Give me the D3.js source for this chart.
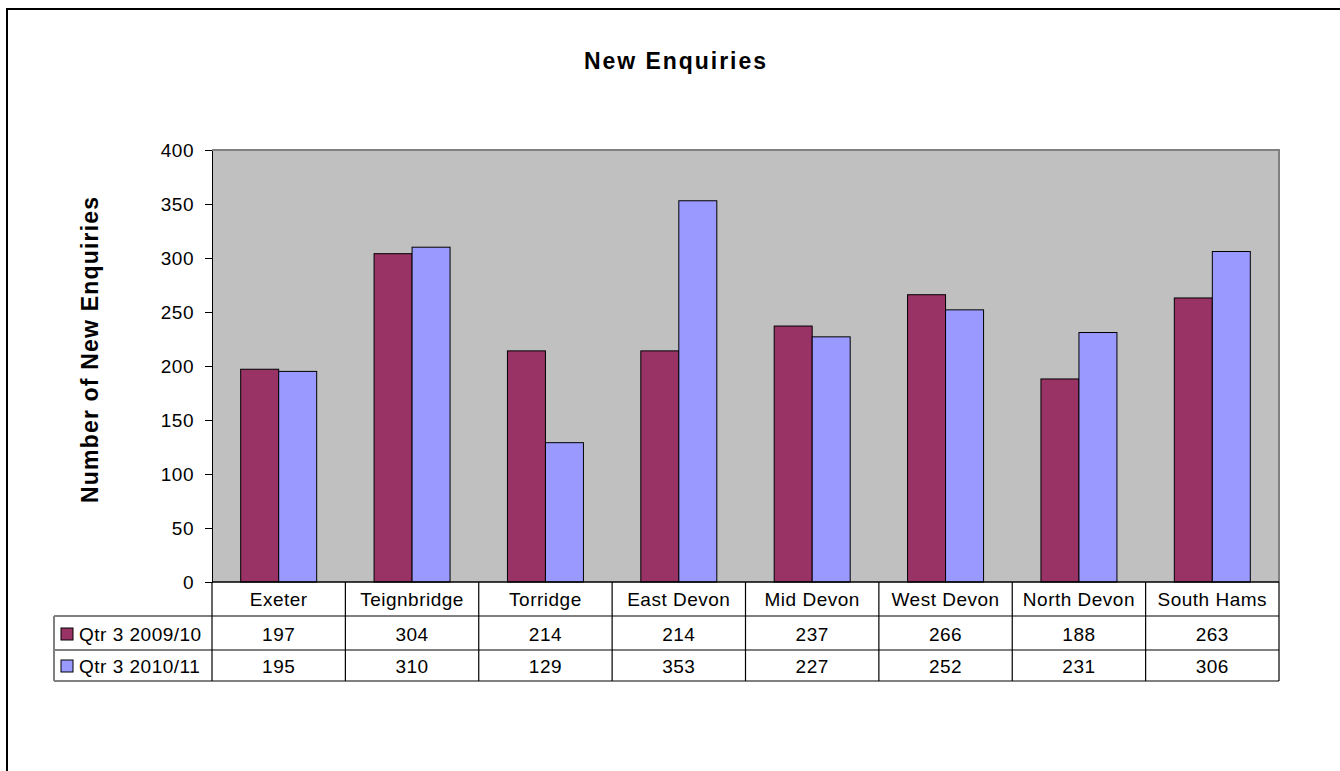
<!DOCTYPE html>
<html>
<head>
<meta charset="utf-8">
<script src="https://cdn.jsdelivr.net/npm/d3@7"></script>
<style>
  html, body { margin: 0; padding: 0; background: #fff; }
  svg { display: block; font-family: "Liberation Sans", Arial, sans-serif; }
</style>
</head>
<body>
<svg id="chart" width="1340" height="771"></svg>
<script>
// Quarterly new enquiries by district
const districts = ["Exeter", "Teignbridge", "Torridge", "East Devon", "Mid Devon", "West Devon", "North Devon", "South Hams"];
const seriesNames = ["Qtr 3 2009/10", "Qtr 3 2010/11"];
const qtr3_2009_10 = [197, 304, 214, 214, 237, 266, 188, 263];
const qtr3_2010_11 = [195, 310, 129, 353, 227, 252, 231, 306];
const yTicks = [0, 50, 100, 150, 200, 250, 300, 350, 400];
const seriesColors = ["#993366", "#9999FF"];

const series = [qtr3_2009_10, qtr3_2010_11];

const labelSize = 19;
const labelSpacing = "0.5px";
const headingSize = 23;

const svg = d3.select("#chart");

// Outer chart frame (runs off the right and bottom of the page)
svg.append("rect")
  .attr("x", 7).attr("y", 9)
  .attr("width", 1400).attr("height", 800)
  .attr("fill", "#fff").attr("stroke", "#000").attr("stroke-width", 2);

const plot = { left: 212, right: 1279, top: 150, bottom: 582 };

const x = d3.scaleBand().domain(districts).range([plot.left, plot.right]).paddingInner(0).paddingOuter(0);
const inner = d3.scaleBand().domain(d3.range(series.length)).range([0, x.bandwidth()]).paddingInner(0).paddingOuter(0.755);
const y = d3.scaleLinear().domain([0, 400]).range([plot.bottom, plot.top]);

// Title
svg.append("text")
  .attr("x", 675).attr("y", 69)
  .attr("text-anchor", "middle")
  .attr("font-weight", "bold").attr("font-size", headingSize)
  .attr("textLength", 182).attr("lengthAdjust", "spacing")
  .text("New Enquiries");

// Plot background
svg.append("rect")
  .attr("x", plot.left).attr("y", plot.top)
  .attr("width", plot.right - plot.left).attr("height", plot.bottom - plot.top)
  .attr("fill", "#C0C0C0");
svg.append("path")
  .attr("d", `M${plot.left},${plot.top}H${plot.right}V${plot.bottom}`)
  .attr("fill", "none").attr("stroke", "#808080").attr("stroke-width", 2);

// Bars
series.forEach((vals, si) => {
  svg.append("g").selectAll("rect")
    .data(vals)
    .join("rect")
    .attr("x", (d, i) => x(districts[i]) + inner(si))
    .attr("y", d => y(d))
    .attr("width", inner.bandwidth())
    .attr("height", d => y(0) - y(d))
    .attr("fill", seriesColors[si])
    .attr("stroke", "#000").attr("stroke-width", 1);
});

// Y axis
const yAxis = d3.axisLeft(y).tickValues(yTicks).tickSize(7).tickPadding(11).tickSizeOuter(0);
const yg = svg.append("g").attr("transform", `translate(${plot.left},0)`).call(yAxis);
yg.select(".domain").attr("stroke", "#000").attr("shape-rendering", "crispEdges");
yg.selectAll(".tick line").attr("stroke", "#000").attr("shape-rendering", "crispEdges");
yg.selectAll(".tick text")
  .attr("font-family", "Liberation Sans, Arial, sans-serif")
  .attr("font-size", labelSize).attr("letter-spacing", labelSpacing).attr("fill", "#000");

// Y axis title
svg.append("text")
  .attr("transform", `translate(98,350) rotate(-90)`)
  .attr("text-anchor", "middle")
  .attr("font-weight", "bold").attr("font-size", headingSize)
  .attr("textLength", 306).attr("lengthAdjust", "spacing")
  .text("Number of New Enquiries");

// Data table under the axis
const rowTop = [582, 616, 650];
const rowBottom = 681;
const tableLeft = 54;
const tbl = svg.append("g");

// Horizontal rules
tbl.append("line").attr("x1", plot.left).attr("x2", plot.right).attr("y1", plot.bottom).attr("y2", plot.bottom)
  .attr("stroke", "#000").attr("stroke-width", 1.5);
tbl.append("line").attr("x1", tableLeft).attr("x2", plot.right).attr("y1", rowTop[1]).attr("y2", rowTop[1])
  .attr("stroke", "#808080").attr("stroke-width", 2);
tbl.append("line").attr("x1", tableLeft).attr("x2", plot.right).attr("y1", rowTop[2]).attr("y2", rowTop[2])
  .attr("stroke", "#000").attr("stroke-width", 1);
tbl.append("line").attr("x1", tableLeft).attr("x2", plot.right).attr("y1", rowBottom).attr("y2", rowBottom)
  .attr("stroke", "#808080").attr("stroke-width", 2);

// Vertical rules between districts
const edges = districts.map(d => x(d)).concat([plot.right]);
tbl.selectAll("line.v").data(edges).join("line")
  .attr("class", "v")
  .attr("x1", d => d).attr("x2", d => d)
  .attr("y1", plot.bottom).attr("y2", rowBottom)
  .attr("stroke", "#000").attr("stroke-width", 1.2);
tbl.append("line").attr("x1", tableLeft).attr("x2", tableLeft).attr("y1", rowTop[1]).attr("y2", rowBottom)
  .attr("stroke", "#808080").attr("stroke-width", 2);

// District names
tbl.selectAll("text.cat").data(districts).join("text")
  .attr("class", "cat")
  .attr("x", d => x(d) + x.bandwidth() / 2)
  .attr("y", 606)
  .attr("text-anchor", "middle")
  .attr("font-size", labelSize).attr("letter-spacing", labelSpacing)
  .text(d => d);

// Series rows: legend key, name and values
const rowBase = [641, 673];
series.forEach((vals, si) => {
  tbl.append("rect")
    .attr("x", 61).attr("y", rowBase[si] - 13)
    .attr("width", 12).attr("height", 12)
    .attr("fill", seriesColors[si]).attr("stroke", "#000").attr("stroke-width", 1);
  tbl.append("text")
    .attr("x", 79).attr("y", rowBase[si])
    .attr("font-size", labelSize).attr("letter-spacing", labelSpacing)
    .text(seriesNames[si]);
  tbl.selectAll(null).data(vals).join("text")
    .attr("x", (d, i) => x(districts[i]) + x.bandwidth() / 2)
    .attr("y", rowBase[si])
    .attr("text-anchor", "middle")
    .attr("font-size", labelSize).attr("letter-spacing", labelSpacing)
    .text(d => d);
});
</script>
</body>
</html>
